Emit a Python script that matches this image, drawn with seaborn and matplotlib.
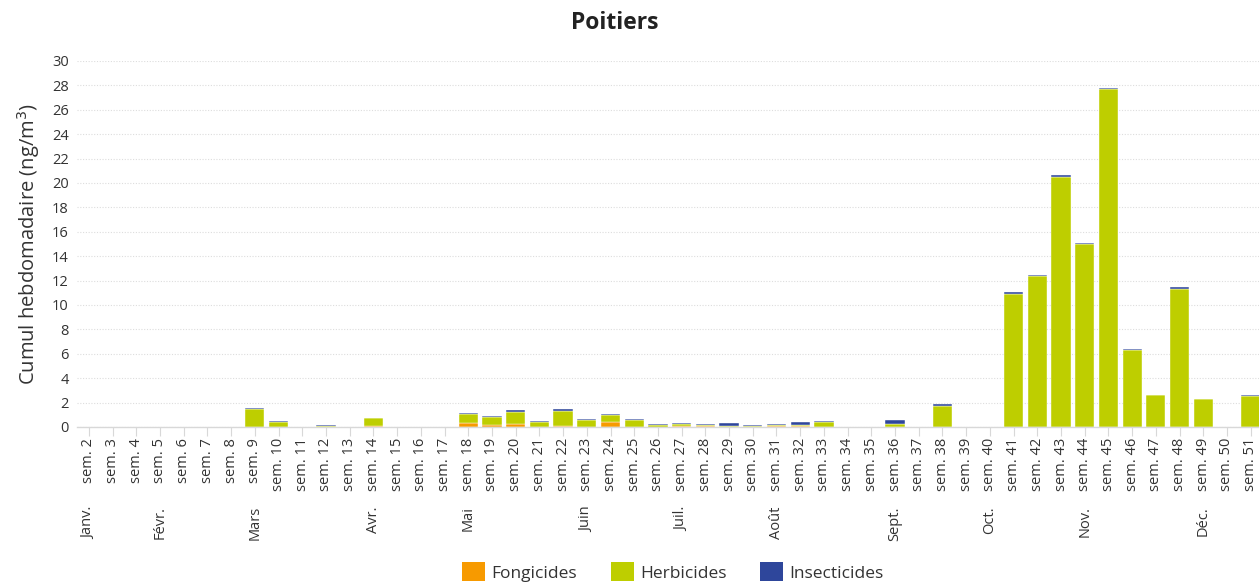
import numpy as np
import pandas as pd
import matplotlib
matplotlib.use("Agg")
import matplotlib.pyplot as plt
from matplotlib.patches import Patch
import seaborn as sns

# weekly data, weeks 2..51
weeks = list(range(2, 52))
week_labels = [f"sem. {w}" for w in weeks]

fongicides = [0, 0, 0, 0, 0, 0, 0,          # 2-8
              0, 0, 0, 0, 0, 0.05, 0, 0, 0,  # 9-17
              0.35, 0.18, 0.28, 0.02, 0.10, 0.03, 0.42, 0.03, 0.03, 0.12,  # 18-27
              0.05, 0.02, 0.02, 0.10, 0.05, 0.02, 0, 0, 0.02, 0,           # 28-37
              0, 0, 0, 0, 0, 0, 0, 0, 0, 0,  # 38-47
              0, 0, 0, 0]                    # 48-51
herbicides = [0, 0, 0, 0, 0, 0, 0,
              1.45, 0.45, 0, 0.12, 0, 0.65, 0, 0, 0,
              0.75, 0.62, 0.97, 0.43, 1.25, 0.52, 0.53, 0.55, 0.12, 0.10,
              0.12, 0.10, 0.08, 0.03, 0.10, 0.35, 0, 0, 0.25, 0,
              1.72, 0, 0, 10.87, 12.35, 20.52, 14.98, 27.70, 6.33, 2.60,
              11.35, 2.28, 0, 2.55]
insecticides = [0, 0, 0, 0, 0, 0, 0,
                0.10, 0.07, 0, 0.08, 0, 0.05, 0, 0, 0,
                0.08, 0.10, 0.13, 0.07, 0.11, 0.09, 0.10, 0.08, 0.13, 0.08,
                0.10, 0.18, 0.10, 0.09, 0.23, 0.15, 0, 0, 0.30, 0,
                0.17, 0, 0, 0.17, 0.11, 0.14, 0.10, 0.09, 0.06, 0.05,
                0.10, 0.04, 0, 0.05]

month_names = ["Janv.", "Févr.", "Mars", "Avr.", "Mai", "Juin",
               "Juil.", "Août", "Sept.", "Oct.", "Nov.", "Déc."]
month_weeks = [2, 5, 9, 14, 18, 23, 27, 31, 36, 40, 44, 49]

colors = {"Fongicides": "#F79A00", "Herbicides": "#BECE00", "Insecticides": "#2E469B"}

sns.set_theme(style="white")
plt.rcParams["font.family"] = ["Open Sans", "DejaVu Sans"]

df = pd.DataFrame({"week": week_labels, "Fongicides": fongicides,
                   "Herbicides": herbicides, "Insecticides": insecticides})

fig = plt.figure(figsize=(12.59, 5.82), dpi=100)
ax = fig.add_axes([77 / 1259, 1 - 427 / 582, 1 - 77 / 1259, (427 - 61) / 582])

bottom = np.zeros(len(weeks))
for name in ["Fongicides", "Herbicides", "Insecticides"]:
    sns.barplot(data=df, x="week", y=name, color=colors[name], saturation=1,
                errorbar=None, width=0.81, edgecolor="white", linewidth=0.3,
                bottom=bottom, ax=ax)
    bottom = bottom + df[name].to_numpy()

ax.set_xlim(-0.5, len(weeks) - 1 + 0.35)
ax.set_ylim(0, 30)
ax.set_yticks(range(0, 31, 2))
ax.yaxis.grid(True, color="#dddddd", linestyle=(0, (1, 1.5)), linewidth=0.8)
ax.set_axisbelow(True)
for s in ["top", "right", "left"]:
    ax.spines[s].set_visible(False)
ax.spines["bottom"].set_color("#d8d8d8")
ax.spines["bottom"].set_linewidth(1)

ax.tick_params(axis="y", length=0, pad=6, labelsize=10.5, labelcolor="#333333")
ax.tick_params(axis="x", length=6.5, width=0.8, color="#d8d8d8", pad=1.5,
               labelsize=10.5, labelrotation=90, labelcolor="#333333", bottom=True)
ax.set_xlabel("")
ax.set_ylabel("Cumul hebdomadaire (ng/m$^3$)", fontsize=14.5, color="#333333", labelpad=7)

# month labels as a second row of ticks
sec = ax.secondary_xaxis("bottom")
sec.set_xticks([w - 2 for w in month_weeks], labels=month_names)
sec.tick_params(length=0, pad=57, labelsize=10.5, labelrotation=90, labelcolor="#333333")
sec.spines["bottom"].set_visible(False)

fig.text(615 / 1259, 1 - 23 / 582, "Poitiers", ha="center", va="center",
         fontsize=16.5, fontweight="bold", color="#222222")

handles = [Patch(facecolor=colors[n], edgecolor="none", label=n) for n in colors]
fig.legend(handles=handles, loc="center", bbox_to_anchor=(673 / 1259, 1 - 572 / 582),
           ncol=3, frameon=False, fontsize=12.5, handlelength=1.32, handleheight=1.32,
           handletextpad=0.35, columnspacing=1.95, labelcolor="#333333")

fig.savefig("out.png", dpi=100)
